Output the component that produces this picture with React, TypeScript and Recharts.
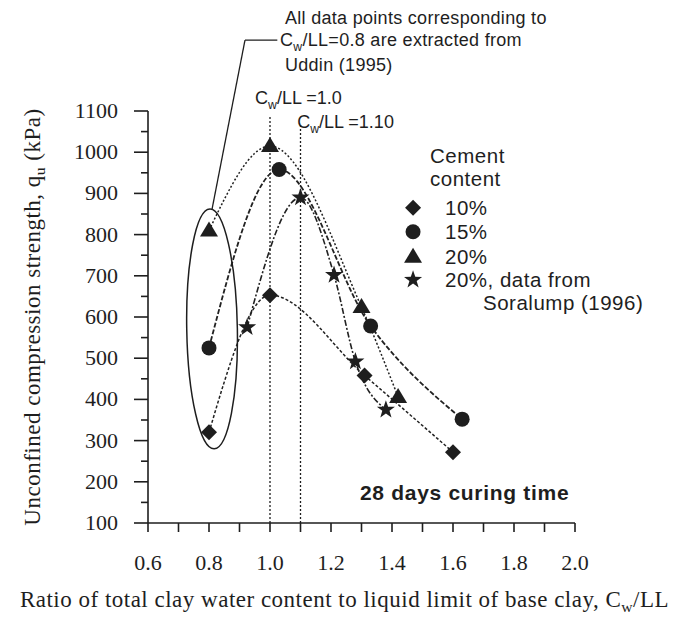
import React from 'react';
import { ComposedChart, Line, XAxis, YAxis, ReferenceLine, ReferenceDot } from 'recharts';

// ---------- data ----------
const ratio10 = [0.8, 1.0, 1.31, 1.6];
const qu10 = [320, 653, 458, 272];
const ratio15 = [0.8, 1.03, 1.33, 1.63];
const qu15 = [525, 958, 578, 352];
const ratio20 = [0.8, 1.0, 1.3, 1.42];
const qu20 = [810, 1015, 624, 406];
const ratioSoralump = [0.925, 1.1, 1.21, 1.28, 1.38];
const quSoralump = [575, 890, 702, 492, 375];

const xTicks = [0.6, 0.7, 0.8, 0.9, 1.0, 1.1, 1.2, 1.3, 1.4, 1.5, 1.6, 1.7, 1.8, 1.9, 2.0];
const xLabelled = [0.6, 0.8, 1.0, 1.2, 1.4, 1.6, 1.8, 2.0];
const yTicks = [100, 150, 200, 250, 300, 350, 400, 450, 500, 550, 600, 650, 700, 750, 800, 850, 900, 950, 1000, 1050, 1100];
const yLabelled = [100, 200, 300, 400, 500, 600, 700, 800, 900, 1000, 1100];

const refRatios = [1.0, 1.1];
const refTops = [1090, 1066];
const refLabels = ['=1.0', '=1.10'];

const legendLabels = ['10%', '15%', '20%', '20%, data from'];

// ---------- layout ----------
const W = 685;
const H = 618;
const MARGIN = { top: 111, right: 110, bottom: 0, left: 0 };
const Y_AXIS_W = 148;
const X_AXIS_H = 95;
const X_DOMAIN: [number, number] = [0.6, 2.0];
const Y_DOMAIN: [number, number] = [100, 1100];
const PX_PER_X = (W - MARGIN.right - Y_AXIS_W) / (X_DOMAIN[1] - X_DOMAIN[0]);
const PX_PER_Y = (H - MARGIN.top - X_AXIS_H) / (Y_DOMAIN[1] - Y_DOMAIN[0]);

const INK = '#1e1e1e';
const SANS = '"Liberation Sans", Arial, Helvetica, sans-serif';
const SERIF = '"Liberation Serif", "Times New Roman", serif';

const toPoints = (xs: number[], ys: number[]) => xs.map((x, i) => ({ x, y: ys[i] }));
const s10 = toPoints(ratio10, qu10);
const s15 = toPoints(ratio15, qu15);
const s20 = toPoints(ratio20, qu20);
const sSor = toPoints(ratioSoralump, quSoralump);

type Kind = 'diamond' | 'circle' | 'triangle' | 'star';

function Marker({ kind, cx, cy }: { kind: Kind; cx: number; cy: number }) {
  if (cx == null || cy == null) return null;
  if (kind === 'diamond') {
    const s = 8;
    return <polygon points={`${cx},${cy - s} ${cx + s},${cy} ${cx},${cy + s} ${cx - s},${cy}`} fill={INK} />;
  }
  if (kind === 'circle') return <circle cx={cx} cy={cy} r={7.5} fill={INK} />;
  if (kind === 'triangle') {
    return <polygon points={`${cx},${cy - 9} ${cx + 9},${cy + 6} ${cx - 9},${cy + 6}`} fill={INK} />;
  }
  const pts: string[] = [];
  for (let i = 0; i < 10; i++) {
    const a = (-90 + i * 36) * Math.PI / 180;
    const r = i % 2 === 0 ? 9.5 : 3.8;
    pts.push(`${cx + r * Math.cos(a)},${cy + r * Math.sin(a)}`);
  }
  return <polygon points={pts.join(' ')} fill={INK} />;
}

const dotOf = (kind: Kind) => (p: any) => <Marker key={`${kind}-${p.index}`} kind={kind} cx={p.cx} cy={p.cy} />;

const XTick = (props: any) => {
  const { x, y, payload } = props;
  const v = payload.value as number;
  const labelled = xLabelled.some((t) => Math.abs(t - v) < 1e-6);
  return (
    <g>
      <line x1={x} x2={x} y1={y} y2={y + 9} stroke={INK} strokeWidth={1.6} />
      {labelled && (
        <text x={x} y={y + 47} textAnchor="middle" fontFamily={SERIF} fontSize={22} fill={INK}>
          {v.toFixed(1)}
        </text>
      )}
    </g>
  );
};

const YTick = (props: any) => {
  const { x, y, payload } = props;
  const v = payload.value as number;
  const labelled = yLabelled.includes(v);
  return (
    <g>
      <line x1={x - (labelled ? 14 : 7)} x2={x} y1={y} y2={y} stroke={INK} strokeWidth={1.6} />
      {labelled && (
        <text x={x - 30} y={y + 7} textAnchor="end" fontFamily={SERIF} fontSize={22} fill={INK}>
          {v}
        </text>
      )}
    </g>
  );
};

const CwLL = ({ fs, tail, shift = 0.3 }: { fs: number; tail: string; shift?: number }) => (
  <>
    C<tspan dy={fs * shift} fontSize={fs * 0.68}>w</tspan>
    <tspan dy={-fs * shift}>/LL{tail}</tspan>
  </>
);

const XTitle = (props: any) => {
  const vb = props.viewBox;
  const fs = 23;
  return (
    <text x={vb.x + vb.width / 2 - 17} y={vb.y + 84} textAnchor="middle" fontFamily={SERIF} fontSize={fs} fill={INK} letterSpacing={0.5}>
      Ratio of total clay water content to liquid limit of base clay, <CwLL fs={fs} tail="" shift={0.22} />
    </text>
  );
};

const YTitle = (props: any) => {
  const vb = props.viewBox;
  const fs = 23;
  const cx = vb.x + 32;
  const cy = vb.y + vb.height / 2;
  return (
    <text x={cx} y={cy} transform={`rotate(-90 ${cx} ${cy})`} textAnchor="middle" dominantBaseline="central" fontFamily={SERIF} fontSize={fs} fill={INK} letterSpacing={0.5}>
      Unconfined compression strength,  q<tspan dy={fs * 0.3} fontSize={fs * 0.68}>u</tspan>
      <tspan dy={-fs * 0.3}> (kPa)</tspan>
    </text>
  );
};

const NoteShape = (p: any) => {
  const fs = 18;
  return (
    <g transform={`translate(${p.cx},${p.cy})`} fontFamily={SANS} fontSize={fs} fill={INK} letterSpacing={0.3}>
      <text x={0} y={0}>All data points corresponding to</text>
      <text x={-5} y={22}><CwLL fs={fs} tail="=0.8 are extracted from" /></text>
      <text x={0} y={47}>Uddin (1995)</text>
    </g>
  );
};

const refLabelShape = (tail: string) => (p: any) => {
  const fs = 18;
  return (
    <text x={p.cx} y={p.cy} fontFamily={SANS} fontSize={fs} fill={INK}>
      <CwLL fs={fs} tail={` ${tail}`} />
    </text>
  );
};

const LegendShape = (p: any) => {
  const kinds: Kind[] = ['diamond', 'circle', 'triangle', 'star'];
  const rows = [0, 24, 49, 72];
  return (
    <g transform={`translate(${p.cx},${p.cy})`} fontFamily={SANS} fontSize={20.5} fill={INK} letterSpacing={0.5}>
      <text x={17} y={-45}>Cement</text>
      <text x={17} y={-22}>content</text>
      {kinds.map((k, i) => (
        <g key={k}>
          <Marker kind={k} cx={0} cy={rows[i]} />
          <text x={32} y={rows[i] + 7}>{legendLabels[i]}</text>
        </g>
      ))}
      <text x={70} y={102}>Soralump (1996)</text>
    </g>
  );
};

const CuringShape = (p: any) => (
  <text x={p.cx} y={p.cy} fontFamily={SANS} fontWeight="bold" fontSize={21} fill={INK} letterSpacing={0.7}>
    28 days curing time
  </text>
);

const EllipseShape = (p: any) => {
  const rx = 0.083 * PX_PER_X;
  const ry = 291 * PX_PER_Y;
  return (
    <ellipse cx={p.cx} cy={p.cy} rx={rx} ry={ry} fill="none" stroke={INK} strokeWidth={1.5} transform={`rotate(-1 ${p.cx} ${p.cy})`} />
  );
};

export default function App() {
  return (
    <div style={{ position: 'absolute', left: 0, top: 0, width: W, height: H, background: '#fff' }}>
      <ComposedChart width={W} height={H} margin={MARGIN}>
        <XAxis
          dataKey="x"
          type="number"
          domain={X_DOMAIN}
          ticks={xTicks}
          interval={0}
          height={X_AXIS_H}
          tickSize={0}
          tickMargin={0}
          tickLine={false}
          tick={<XTick />}
          axisLine={{ stroke: INK, strokeWidth: 1.6 }}
          allowDataOverflow
          label={{ content: <XTitle /> }}
        />
        <YAxis
          type="number"
          domain={Y_DOMAIN}
          ticks={yTicks}
          interval={0}
          width={Y_AXIS_W}
          tickSize={0}
          tickMargin={0}
          tickLine={false}
          tick={<YTick />}
          axisLine={{ stroke: INK, strokeWidth: 1.6 }}
          allowDataOverflow
          label={{ content: <YTitle /> }}
        />

        {refRatios.map((r, i) => (
          <ReferenceLine
            key={`ref-${i}`}
            segment={[{ x: r, y: Y_DOMAIN[0] }, { x: r, y: refTops[i] }]}
            stroke={INK}
            strokeWidth={1.3}
            strokeDasharray="2 2"
            ifOverflow="visible"
          />
        ))}
        {refRatios.map((r, i) => (
          <ReferenceDot
            key={`reflab-${i}`}
            x={i === 0 ? 0.951 : 1.089}
            y={i === 0 ? 1117 : 1059}
            r={0}
            ifOverflow="visible"
            shape={refLabelShape(refLabels[i])}
          />
        ))}

        <ReferenceDot x={0.81} y={571} r={0} ifOverflow="visible" shape={EllipseShape} />
        <ReferenceLine segment={[{ x: 0.81, y: 862 }, { x: 0.918, y: 1272 }]} stroke={INK} strokeWidth={1.3} ifOverflow="visible" />
        <ReferenceLine segment={[{ x: 0.918, y: 1272 }, { x: 1.024, y: 1272 }]} stroke={INK} strokeWidth={1.3} ifOverflow="visible" />
        <ReferenceDot x={1.049} y={1311} r={0} ifOverflow="visible" shape={NoteShape} />

        <Line data={s10} dataKey="y" type="monotone" stroke="#222" strokeWidth={1.5} strokeDasharray="3 2" dot={dotOf('diamond')} activeDot={false} isAnimationActive={false} legendType="none" />
        <Line data={s15} dataKey="y" type="monotone" stroke="#222" strokeWidth={1.8} strokeDasharray="5 2" dot={dotOf('circle')} activeDot={false} isAnimationActive={false} legendType="none" />
        <Line data={s20} dataKey="y" type="monotone" stroke="#222" strokeWidth={1.5} strokeDasharray="2 2" dot={dotOf('triangle')} activeDot={false} isAnimationActive={false} legendType="none" />
        <Line data={sSor} dataKey="y" type="monotone" stroke="#222" strokeWidth={1.6} strokeDasharray="6 2 2 2" dot={dotOf('star')} activeDot={false} isAnimationActive={false} legendType="none" />

        <ReferenceDot x={1.469} y={865} r={0} ifOverflow="visible" shape={LegendShape} />
        <ReferenceDot x={1.295} y={156} r={0} ifOverflow="visible" shape={CuringShape} />
      </ComposedChart>
    </div>
  );
}
